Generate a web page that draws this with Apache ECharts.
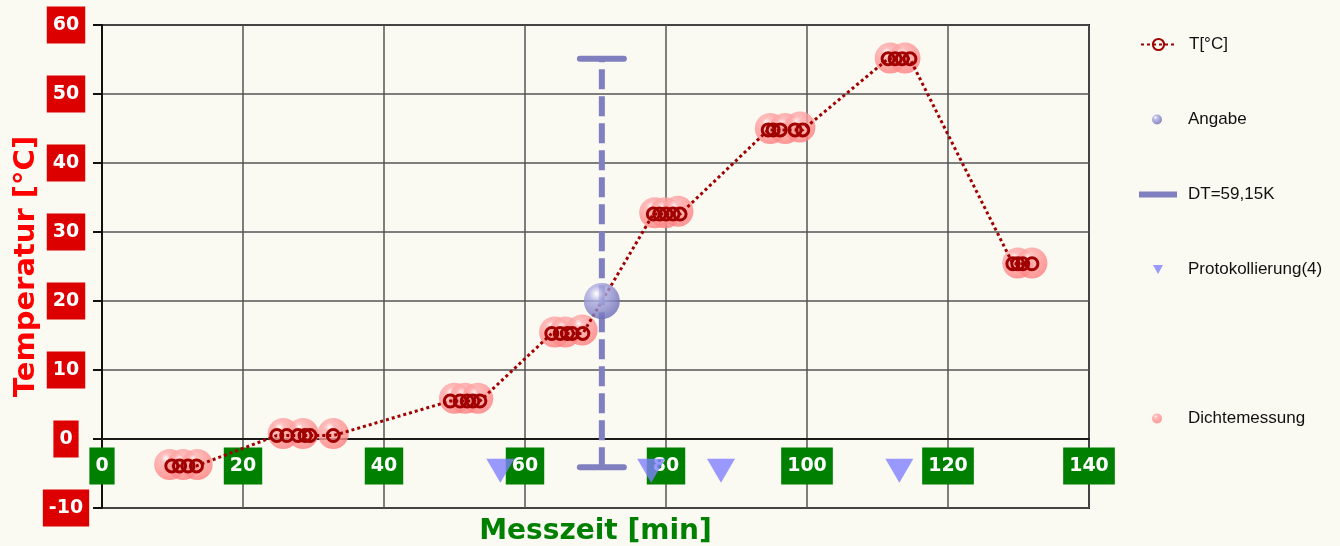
<!DOCTYPE html>
<html>
<head>
<meta charset="utf-8">
<script src="https://cdn.jsdelivr.net/npm/echarts@6/dist/echarts.min.js"></script>
<style>
  html, body { margin: 0; padding: 0; background: #faf9f2; }
  #chart { width: 1340px; height: 546px; }
</style>
</head>
<body>
<div id="chart"></div>
<script>
// Messwerte T[°C] ueber Messzeit [min]
var tTime = [9.9, 11, 12.2, 13.4,
  24.8, 26.2, 27.8, 28.8, 29.5, 32.8,
  49.4, 50.8, 51.8, 52.6, 53.6,
  63.8, 65, 66, 66.7, 68.2,
  78.2, 79.1, 80, 81, 82,
  94.5, 95.2, 96.2, 98.3, 99.4,
  111.5, 112.5, 113.5, 114.6,
  129.2, 129.9, 130.6, 131.9];
var tValue = [-3.9, -3.9, -3.9, -3.9,
  0.5, 0.5, 0.5, 0.5, 0.5, 0.5,
  5.5, 5.5, 5.5, 5.5, 5.5,
  15.3, 15.3, 15.3, 15.3, 15.3,
  32.6, 32.6, 32.6, 32.6, 32.6,
  44.8, 44.8, 44.8, 44.8, 44.8,
  55.1, 55.1, 55.1, 55.1,
  25.4, 25.4, 25.4, 25.4];

// Dichtemessung
var dichteTime = [9.6, 11.5, 13.5, 25.7, 28.5, 32.8, 50, 51.5, 53.3, 64.2, 65.7, 68.1,
  78.4, 79.9, 81.7, 94.8, 96.9, 99, 111.8, 113.9, 129.9, 131.9];
var dichteValue = [-3.7, -3.7, -3.7, 0.8, 0.8, 0.8, 5.9, 5.9, 5.9, 15.5, 15.5, 15.8,
  32.8, 32.8, 33, 45, 45, 45.2, 55.2, 55.2, 25.5, 25.5];

// Angabe und DT-Balken
var angabeTime = [70.9];
var angabeValue = [20];
var dtTime = [70.9];
var dtLow = [-4.1];
var dtHigh = [55.1];

// Protokollierung(4)
var protTime = [56.5, 77.9, 87.8, 113.1];
var protValue = [-4.6, -4.6, -4.6, -4.6];

var xTicks = { min: 0, max: 140, interval: 20 };
var yTicks = { min: -10, max: 60, interval: 10 };

function zip(a, b) {
  return a.map(function (v, i) { return [v, b[i]]; });
}

var chart = echarts.init(document.getElementById('chart'));

var pinkBall = {
  type: 'radial', x: 0.38, y: 0.3, r: 0.72,
  colorStops: [
    { offset: 0, color: '#ffffff' },
    { offset: 0.2, color: '#ffaeae' },
    { offset: 1, color: '#ff7e7e' }
  ]
};
var blueBall = {
  type: 'radial', x: 0.35, y: 0.3, r: 0.72,
  colorStops: [
    { offset: 0, color: '#ffffff' },
    { offset: 0.28, color: '#aeaee2' },
    { offset: 1, color: '#6c6cb8' }
  ]
};
var dtColor = '#8080c0';
var legendText = { fontFamily: 'Liberation Sans', fontSize: 17, color: '#111' };

function legendAt(name, left, top, w, h, padLeft, icon) {
  var item = { name: name };
  if (icon) item.icon = icon;
  return {
    data: [item],
    orient: 'vertical',
    left: left,
    top: top,
    padding: 0,
    itemWidth: w,
    itemHeight: h,
    selectedMode: false,
    textStyle: Object.assign({ padding: [0, 0, 0, padLeft] }, legendText)
  };
}

var option = {
  animation: false,
  backgroundColor: '#faf9f2',
  grid: {
    left: 102, right: 251, top: 25, bottom: 38,
    outerBoundsMode: 'none',
    show: true,
    backgroundColor: 'transparent',
    borderColor: '#111',
    borderWidth: 2
  },
  legend: [
    legendAt('T[°C]', 1140, 36, 35, 14, 8),
    legendAt('Angabe', 1152, 111, 10, 10, 21),
    legendAt('DT=59,15K', 1139, 186, 38, 6, 6, 'rect'),
    legendAt('Protokollierung(4)', 1153, 261, 10, 9, 20, 'path://M0,0 L10,0 L5,9 Z'),
    legendAt('Dichtemessung', 1152, 410, 10, 10, 21)
  ],
  xAxis: {
    type: 'value',
    min: xTicks.min, max: xTicks.max, interval: xTicks.interval,
    name: 'Messzeit [min]',
    nameLocation: 'middle',
    nameGap: 10,
    nameMoveOverlap: false,
    nameTextStyle: { color: '#008000', fontFamily: 'DejaVu Sans', fontWeight: 'bold', fontSize: 28 },
    axisLine: { onZero: true, lineStyle: { color: '#1a1a1a', width: 2 } },
    axisTick: { show: false },
    axisLabel: {
      color: '#fff', fontFamily: 'DejaVu Sans', fontWeight: 'bold', fontSize: 19,
      backgroundColor: '#008000', padding: [8, 6, 8, 6], lineHeight: 21,
      margin: -42, verticalAlign: 'middle'
    },
    splitLine: { show: true, lineStyle: { color: '#555', width: 1.5 } }
  },
  yAxis: {
    type: 'value',
    min: yTicks.min, max: yTicks.max, interval: yTicks.interval,
    name: 'Temperatur [°C]',
    nameLocation: 'middle',
    nameGap: 61,
    nameMoveOverlap: false,
    nameTextStyle: { color: '#ff0000', fontFamily: 'DejaVu Sans', fontWeight: 'bold', fontSize: 29 },
    axisLine: { show: true, lineStyle: { color: '#111', width: 2 } },
    axisTick: { show: true, length: 9, lineStyle: { color: '#111', width: 2 } },
    axisLabel: {
      color: '#fff', fontFamily: 'DejaVu Sans', fontWeight: 'bold', fontSize: 19,
      backgroundColor: '#dd0000', padding: [8, 6, 8, 6], lineHeight: 21,
      margin: 36, align: 'center'
    },
    splitLine: { show: true, lineStyle: { color: '#555', width: 1.5 } }
  },
  series: [
    {
      name: 'Dichtemessung',
      type: 'scatter',
      z: 2,
      symbol: 'circle',
      symbolSize: 31,
      itemStyle: { color: pinkBall },
      data: zip(dichteTime, dichteValue)
    },
    {
      name: 'T[°C]',
      type: 'line',
      z: 3,
      symbol: 'circle',
      symbolSize: 12,
      lineStyle: { color: '#a00000', width: 3, type: [3, 3] },
      itemStyle: { color: 'rgba(255,255,255,0)', borderColor: '#a00000', borderWidth: 3 },
      data: zip(tTime, tValue)
    },
    {
      name: 'DT=59,15K',
      type: 'custom',
      z: 4,
      itemStyle: { color: dtColor },
      renderItem: function (params, api) {
        var top = api.coord([api.value(0), api.value(2)]);
        var bot = api.coord([api.value(0), api.value(1)]);
        var half = 22;
        return {
          type: 'group',
          children: [
            { type: 'line', shape: { x1: bot[0], y1: bot[1], x2: top[0], y2: top[1] },
              style: { stroke: dtColor, lineWidth: 6, lineDash: [20, 7] } },
            { type: 'line', shape: { x1: top[0] - half, y1: top[1], x2: top[0] + half, y2: top[1] },
              style: { stroke: dtColor, lineWidth: 6, lineCap: 'round' } },
            { type: 'line', shape: { x1: bot[0] - half, y1: bot[1], x2: bot[0] + half, y2: bot[1] },
              style: { stroke: dtColor, lineWidth: 6, lineCap: 'round' } }
          ]
        };
      },
      data: dtTime.map(function (t, i) { return [t, dtLow[i], dtHigh[i]]; })
    },
    {
      name: 'Angabe',
      type: 'scatter',
      z: 5,
      symbol: 'circle',
      symbolSize: 36,
      itemStyle: { color: blueBall },
      data: zip(angabeTime, angabeValue)
    },
    {
      name: 'Protokollierung(4)',
      type: 'scatter',
      z: 6,
      symbol: 'triangle',
      symbolRotate: 180,
      symbolSize: [28, 24],
      itemStyle: { color: '#8080ff' },
      data: zip(protTime, protValue)
    }
  ]
};

chart.setOption(option);
</script>
</body>
</html>
